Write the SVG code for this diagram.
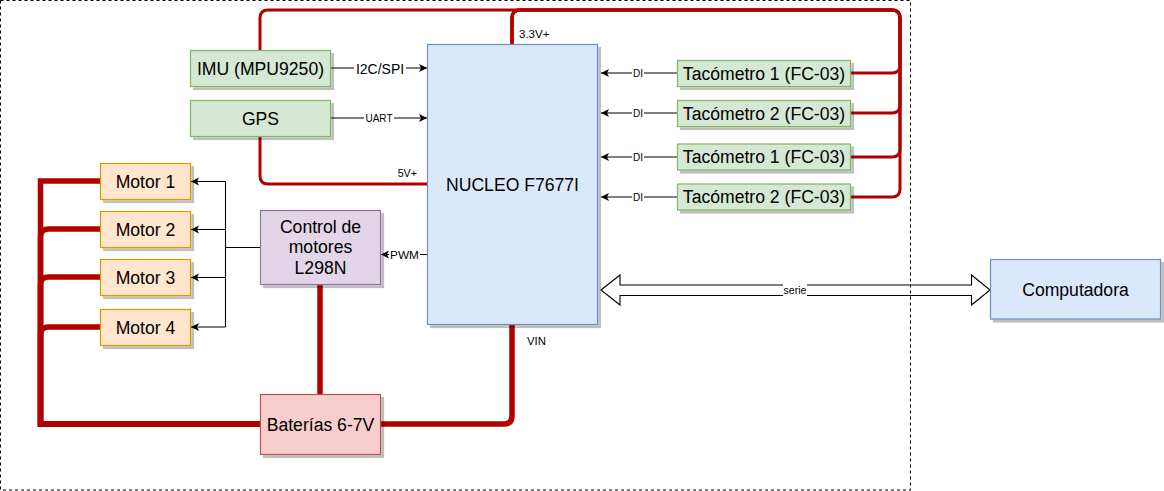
<svg xmlns="http://www.w3.org/2000/svg" width="1164" height="491" viewBox="0 0 1164 491">
<style>
.t{font-family:"Liberation Sans",Arial,sans-serif;font-size:17.6px;fill:#000;text-anchor:middle;dominant-baseline:central}
.s{font-family:"Liberation Sans",Arial,sans-serif;font-size:11px;fill:#000;dominant-baseline:central}
.green{fill:#d5e8d4;stroke:#82b366;stroke-width:1.2}
.blue{fill:#dae8fc;stroke:#6c8ebf;stroke-width:1.2}
.orange{fill:#ffe6cc;stroke:#d79b00;stroke-width:1.2}
.purple{fill:#e1d5e7;stroke:#9673a6;stroke-width:1.2}
.red{fill:#f8cecc;stroke:#b85450;stroke-width:1.2}
.pw{fill:none;stroke:#b20000;stroke-width:3}
.pwt{fill:none;stroke:#b20000;stroke-width:5.5}
.ln{fill:none;stroke:#000;stroke-width:1.1;marker-end:url(#arr)}
.lb{fill:#fff}
</style>
<defs>
<filter id="sh" x="-10%" y="-10%" width="130%" height="140%">
<feOffset in="SourceAlpha" dx="3" dy="3" result="o"/>
<feColorMatrix in="o" type="matrix" values="0 0 0 0 0  0 0 0 0 0  0 0 0 0 0  0 0 0 0.25 0" result="c"/>
<feMerge><feMergeNode in="c"/><feMergeNode in="SourceGraphic"/></feMerge>
</filter>
<marker id="arr" markerUnits="userSpaceOnUse" markerWidth="10" markerHeight="10" refX="8" refY="4" orient="auto">
<path d="M0,0 L8,4 L0,8 L2,4 Z" fill="#000"/>
</marker>
</defs>
<rect width="1164" height="491" fill="#fff"/>

<g id="connectors">
<!-- power lines -->
<path class="pw" d="M260 50 V18 Q260 10 268 10 H520"/>
<path class="pw" d="M850 73 H892 Q900 73 900 65 V18 Q900 10 892 10 H520 Q512 10 512 18 V44"/>
<path class="pw" d="M850 113 H892 Q900 113 900 105 V18 Q900 10 892 10 H520 Q512 10 512 18 V44"/>
<path class="pw" d="M850 157 H892 Q900 157 900 149 V18 Q900 10 892 10 H520 Q512 10 512 18 V44"/>
<path class="pw" d="M850 197 H892 Q900 197 900 189 V18 Q900 10 892 10 H520 Q512 10 512 18 V44"/>
<path class="pw" d="M260 136 V176 Q260 184 268 184 H427"/>
<path class="pwt" d="M320 284 V394"/>
<path class="pwt" d="M381 424 H504 Q512 424 512 416 V324"/>
<path class="pwt" d="M260 424 H40.5 V181 H100"/>
<path class="pwt" d="M100 229 H48.5 Q40.5 229 40.5 237 V424 H260"/>
<path class="pwt" d="M100 277 H48.5 Q40.5 277 40.5 285 V424 H260"/>
<path class="pwt" d="M100 327 H48.5 Q40.5 327 40.5 335 V424 H260"/>
<!-- signal lines -->
<path class="ln" d="M330 68 H427"/>
<rect class="lb" x="354" y="61" width="52" height="14"/>
<text class="s" x="380" y="68.5" text-anchor="middle" style="font-size:14px">I2C/SPI</text>
<path class="ln" d="M330 118 H427"/>
<rect class="lb" x="364" y="112" width="30" height="12"/>
<text class="s" x="379" y="118.5" text-anchor="middle" style="font-size:10px">UART</text>
<path class="ln" d="M677 73 H601"/>
<path class="ln" d="M677 113 H601"/>
<path class="ln" d="M677 157 H601"/>
<path class="ln" d="M677 197 H601"/>
<rect class="lb" x="632" y="67" width="12" height="12"/>
<rect class="lb" x="632" y="107" width="12" height="12"/>
<rect class="lb" x="632" y="151" width="12" height="12"/>
<rect class="lb" x="632" y="191" width="12" height="12"/>
<text class="s" x="638" y="73.5" text-anchor="middle" style="font-size:10px">DI</text>
<text class="s" x="638" y="113.5" text-anchor="middle" style="font-size:10px">DI</text>
<text class="s" x="638" y="157.5" text-anchor="middle" style="font-size:10px">DI</text>
<text class="s" x="638" y="197.5" text-anchor="middle" style="font-size:10px">DI</text>
<path class="ln" d="M427 254.5 H381"/>
<rect class="lb" x="389" y="248" width="31" height="13"/>
<text class="s" x="404.5" y="255" text-anchor="middle" style="font-size:11.8px">PWM</text>
<path fill="none" stroke="#000" stroke-width="1.1" d="M260 247.5 H225.5 V327"/>
<path fill="none" stroke="#000" stroke-width="1.1" d="M225.5 181 V247.5"/>
<path class="ln" d="M225.5 181.5 H191"/>
<path class="ln" d="M225.5 229.5 H191"/>
<path class="ln" d="M225.5 277.5 H191"/>
<path class="ln" d="M225.5 327 H191"/>
<!-- serial flex arrow -->
<path d="M601 290 L620 275 V285 H971.5 V275 L990 290 L971.5 305 V295.5 H620 V305 Z" fill="#fff" stroke="#000" stroke-width="1.1" stroke-linejoin="miter"/>
<rect class="lb" x="783" y="284" width="24" height="12"/>
<text class="s" x="795" y="290" text-anchor="middle" style="font-size:10.5px">serie</text>
<!-- power labels -->
<text class="s" x="519" y="33.5" style="font-size:11.5px">3.3V+</text>
<text class="s" x="417" y="173" text-anchor="end" style="font-size:10.7px">5V+</text>
<text class="s" x="527" y="340.5" style="font-size:11.4px">VIN</text>
</g>

<g id="imu"><rect class="green" x="190.5" y="50.5" width="140" height="36" filter="url(#sh)"/><text class="t" x="260.5" y="68.5">IMU (MPU9250)</text></g>
<g id="gps"><rect class="green" x="190.5" y="100.5" width="140" height="36" filter="url(#sh)"/><text class="t" x="260.5" y="118.5">GPS</text></g>
<g id="nucleo"><rect class="blue" x="427.5" y="44.5" width="170" height="280" filter="url(#sh)"/><text class="t" x="512.5" y="184.5">NUCLEO F7677I</text></g>
<g id="tac1"><rect class="green" x="677.5" y="60.5" width="173" height="26" filter="url(#sh)"/><text class="t" x="764" y="73.5">Tacómetro 1 (FC-03)</text></g>
<g id="tac2"><rect class="green" x="677.5" y="100.5" width="173" height="26" filter="url(#sh)"/><text class="t" x="764" y="113.5">Tacómetro 2 (FC-03)</text></g>
<g id="tac3"><rect class="green" x="677.5" y="144" width="173" height="26" filter="url(#sh)"/><text class="t" x="764" y="157">Tacómetro 1 (FC-03)</text></g>
<g id="tac4"><rect class="green" x="677.5" y="184" width="173" height="26" filter="url(#sh)"/><text class="t" x="764" y="197">Tacómetro 2 (FC-03)</text></g>
<g id="motor1"><rect class="orange" x="100.5" y="163.5" width="90" height="36" filter="url(#sh)"/><text class="t" x="145.5" y="181.5">Motor 1</text></g>
<g id="motor2"><rect class="orange" x="100.5" y="211.5" width="90" height="36" filter="url(#sh)"/><text class="t" x="145.5" y="229.5">Motor 2</text></g>
<g id="motor3"><rect class="orange" x="100.5" y="259.5" width="90" height="36" filter="url(#sh)"/><text class="t" x="145.5" y="277.5">Motor 3</text></g>
<g id="motor4"><rect class="orange" x="100.5" y="309.5" width="90" height="36" filter="url(#sh)"/><text class="t" x="145.5" y="327.5">Motor 4</text></g>
<g id="control"><rect class="purple" x="260.5" y="210.5" width="120" height="74" filter="url(#sh)"/><text class="t" x="320.5" y="226.5">Control de</text><text class="t" x="320.5" y="247">motores</text><text class="t" x="320.5" y="267.5">L298N</text></g>
<g id="baterias"><rect class="red" x="260.5" y="394.5" width="120" height="60" filter="url(#sh)"/><text class="t" x="320.5" y="424.5">Baterías 6-7V</text></g>
<g id="computadora"><rect class="blue" x="990.5" y="259.5" width="170" height="59.5" filter="url(#sh)"/><text class="t" x="1075.5" y="289.5">Computadora</text></g>

<g id="frame"><rect x="0.5" y="0.5" width="910" height="489.5" fill="none" stroke="#000" stroke-width="1" stroke-dasharray="3,3"/></g>
</svg>
